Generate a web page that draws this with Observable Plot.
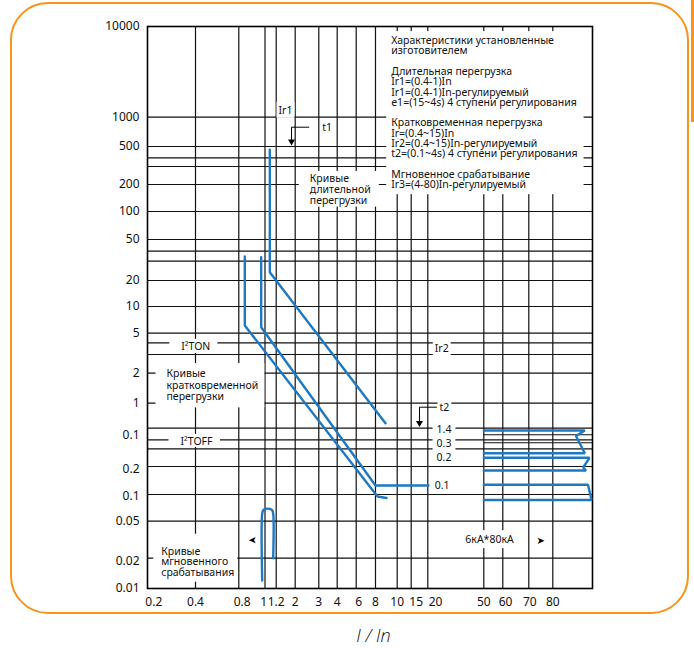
<!DOCTYPE html>
<html><head><meta charset="utf-8">
<script src="https://cdn.jsdelivr.net/npm/d3@7"></script>
<script src="https://cdn.jsdelivr.net/npm/@observablehq/plot@0.6"></script>
<style>
body{margin:0;background:#fff;}
#wrap{position:relative;width:694px;height:648px;overflow:hidden;background:#fff;}
#wrap svg{position:absolute;left:0;top:0;}
#border{position:absolute;left:10px;top:2px;width:679px;height:612px;box-sizing:border-box;border:2px solid #F7941E;border-radius:38px;pointer-events:none;}
#bar{position:absolute;left:691px;top:0;width:3px;height:122px;background:#F7941E;}
#xlabel{position:absolute;left:0;width:747px;top:623px;text-align:center;font-family:"Open Sans","Noto Sans",sans-serif;font-style:italic;font-weight:300;font-size:18px;color:#111;}
</style></head>
<body><div id="wrap"><div id="border"></div><div id="bar"></div><div id="xlabel">I / In</div></div>
<script>
// ---- chart units: x = distance along the I/In grid, y = height along the time grid ----
// vertical grid lines (x positions)
const xGrid = [48, 91.3, 117.5, 128.7, 147.7, 171.3, 189.7, 208.7, 228, 249.7, 263.7, 280.3, 336.3, 355.3, 381.3, 405.3];
// horizontal grid lines (y positions)
const yGrid = [471.3, 442, 430.7, 422, 404, 377, 349, 337.3, 327.3, 308, 282, 255.3, 245.7, 234, 215.3, 185.3, 160.3, 148.7, 139.7, 122, 94, 67.3, 30.3];
// short horizontal grid lines in the instantaneous zone
const yGridPartY = [153.7, 145.7];
const yGridPartX1 = [336.3, 336.3];
const yGridPartX2 = [445, 445];

// tick labels
const xTickPos = [6.3, 48, 94.7, 116.3, 128.7, 147.7, 171.3, 189.7, 211.3, 228, 249.7, 268.7, 288, 336.3, 358, 382.3, 405.3];
const xTickLabels = ["0.2", "0.4", "0.8", "1", "1.2", "2", "3", "4", "6", "8", "10", "15", "20", "50", "60", "70", "80"];
const yTickPos = [562, 471.3, 442, 404, 377, 349, 308, 282, 255.3, 215.3, 185.3, 153.7, 119, 92, 67.3, 27, 0];
const yTickLabels = ["10000", "1000", "500", "200", "100", "50", "20", "10", "5", "2", "1", "0.1", "0.2", "0.1", "0.05", "0.02", "0.01"];

// trip curves (x, y)
const longDelay = [[122.3, 438.7], [122.3, 316.3], [238, 165.3]];
const shortDelayA = [[97.3, 332], [97.3, 263], [230, 92], [239, 90.5]];
const shortDelayB = [[113.7, 331.3], [113.7, 261.3], [228, 103], [281, 103]];
const instant = [[114.7, 8], [114.7, 75], [115.7, 78.2], [118.2, 79.6], [120.2, 79.9], [122.2, 79.6], [124.7, 78.2], [125.7, 75], [125.7, 30.3]];
const band1 = [[336.3, 158], [437.3, 158], [428.5, 152.5], [437.3, 135.3], [336.3, 135.3]];
const band2 = [[336.3, 130.7], [442, 130.7], [435.7, 121], [438.5, 118], [336.3, 118]];
const band3 = [[336.3, 103.7], [440.5, 103.7], [444, 88.5], [336.3, 88.5]];

// setting arrows (t1, t2)
const t1Arrow = [[161.3, 461.3], [144, 461.3], [144, 447]];
const t2Arrow = [[289, 181.3], [272, 181.3], [272, 165.5]];

// annotations
const noteTexts = [
  "Ir1", "t1", "Кривые\nдлительной\nперегрузки",
  "Характеристики установленные\nизготовителем\n\nДлительная перегрузка\nIr1=(0.4-1)In\nIr1=(0.4-1)In-регулируемый\ne1=(15~4s) 4 ступени регулирования\n\nКратковременная перегрузка\nIr=(0.4~15)In\nIr2=(0.4~15)In-регулируемый\nt2=(0.1~4s) 4 ступени регулирования\n\nМгновенное срабатывание\nIr3=(4-80)In-регулируемый",
  "I²TON", "I²TOFF", "Кривые\nкратковременной\nперегрузки", "Ir2", "t2", "1.4\n0.3\n0.2", "0.1", "6кА*80кА",
  "Кривые\nмгновенного\nсрабатывания"
];
const noteX = [138, 174.7, 162.3, 243.7, 48.3, 49, 19, 287.3, 292, 296.5, 294.7, 342, 13.7];
const noteY = [478, 461.3, 399.2, 475.65, 242, 147, 203.5, 239.7, 181.3, 146.3, 103, 48.7, 26.7];
const arrowGlyphX = [393.3, 105];
const arrowGlyphY = [48, 48];

// ---- styles ----
const BLUE = "#1E78C2";
const noteStyle = [
  {anchor: "middle", size: 10.5, lh: 1, pad: [1, 2, 1, 2]},
  {anchor: "start", size: 10.5, lh: 1, pad: [1, 2, 1, 2]},
  {anchor: "start", size: 10.5, lh: 1.03, pad: [0, 8, 0, 11]},
  {anchor: "start", size: 10.5, lh: 0.98, pad: [2, 6, 3, 5]},
  {anchor: "middle", size: 10.5, lh: 1, pad: [0, 7, 0, 12]},
  {anchor: "middle", size: 10.5, lh: 1, pad: [0, 7, -1, 12]},
  {anchor: "start", size: 10.5, lh: 1.11, pad: [3, 6, 4, 11]},
  {anchor: "start", size: 10.5, lh: 1, pad: [0, 2, 0, 2]},
  {anchor: "start", size: 10.5, lh: 1, pad: [0, 2, 0, 2]},
  {anchor: "middle", size: 10.5, lh: 1.33, pad: [0, 4, 0, 4]},
  {anchor: "middle", size: 10.5, lh: 1, pad: [0, 5, 0, 5]},
  {anchor: "middle", size: 10.5, lh: 1, pad: [2, 5, 2, 5]},
  {anchor: "start", size: 10.5, lh: 1.0, pad: [10, 3, 3, 8]}
];

const xLabelOf = new Map(xTickPos.map((p, i) => [p, xTickLabels[i]]));
const yLabelOf = new Map(yTickPos.map((p, i) => [p, yTickLabels[i]]));
const yGridPart = yGridPartY.map((y, i) => ({y, x1: yGridPartX1[i], x2: yGridPartX2[i]}));
const P = d => d[0], Q = d => d[1];

const curveMarks = [longDelay, shortDelayA, shortDelayB, band1, band2, band3].map(c =>
  Plot.line(c, {x: P, y: Q, stroke: BLUE, strokeWidth: 2.4, strokeLinejoin: "miter"}));
curveMarks.push(Plot.line(instant, {x: P, y: Q, stroke: BLUE, strokeWidth: 2.4, curve: "catmull-rom"}));

const arrowMarks = [t1Arrow, t2Arrow].flatMap(a => [
  Plot.line(a, {x: P, y: Q, stroke: "#000", strokeWidth: 1}),
  Plot.dot([a[a.length - 1]], {x: P, y: Q, symbol: "triangle", r: 2.6, rotate: 180, fill: "#000", stroke: "none"})
]);

const noteMarks = noteTexts.map((t, i) => Plot.text([{t, x: noteX[i], y: noteY[i]}], {
  x: "x", y: "y", text: "t", textAnchor: noteStyle[i].anchor, fontSize: noteStyle[i].size,
  lineHeight: noteStyle[i].lh, fill: "#111", ariaDescription: "note-" + i
}));

const glyphMarks = [
  Plot.text([0], {x: () => arrowGlyphX[0], y: () => arrowGlyphY[0], text: () => "➤", fontFamily: "DejaVu Sans", fontSize: 10, fill: "#000"}),
  Plot.text([0], {x: () => arrowGlyphX[1], y: () => arrowGlyphY[1], text: () => "➤", fontFamily: "DejaVu Sans", fontSize: 10, rotate: 180, fill: "#000"})
];

const plot = Plot.plot({
  width: 694, height: 648,
  marginLeft: 147, marginRight: 102, marginTop: 26, marginBottom: 60,
  style: {fontFamily: "'Noto Sans', sans-serif", fontSize: "12px", color: "#111", background: "transparent"},
  x: {domain: [0, 445], ticks: xTickPos, tickFormat: d => xLabelOf.get(d), tickSize: 0, tickPadding: 9, label: null},
  y: {domain: [0, 562], ticks: yTickPos, tickFormat: d => yLabelOf.get(d), tickSize: 0, tickPadding: 8, label: null},
  marks: [
    Plot.ruleX(xGrid, {stroke: "#111", strokeWidth: 1.2}),
    Plot.ruleY(yGrid, {stroke: "#111", strokeWidth: 1.2}),
    Plot.ruleY(yGridPart, {y: "y", x1: "x1", x2: "x2", stroke: "#111", strokeWidth: 1.1}),
    Plot.frame({stroke: "#000", strokeWidth: 1.6}),
    ...curveMarks,
    ...arrowMarks,
    ...noteMarks,
    ...glyphMarks
  ]
});

const wrap = document.getElementById("wrap");
wrap.insertBefore(plot, wrap.firstChild);

// white boxes behind the annotation texts, sized from the rendered text
const sr = plot.getBoundingClientRect();
noteTexts.forEach((t, i) => {
  const g = plot.querySelector(`g[aria-description="note-${i}"]`);
  if (!g) return;
  const pad = noteStyle[i].pad;
  g.querySelectorAll("text").forEach(te => {
    const r = te.getBoundingClientRect();
    const rect = document.createElementNS("http://www.w3.org/2000/svg", "rect");
    rect.setAttribute("x", r.left - sr.left - pad[3]);
    rect.setAttribute("y", r.top - sr.top - pad[0]);
    rect.setAttribute("width", r.width + pad[1] + pad[3]);
    rect.setAttribute("height", r.height + pad[0] + pad[2]);
    rect.setAttribute("fill", "#fff");
    g.parentNode.insertBefore(rect, g);
  });
});
</script>
</body></html>
